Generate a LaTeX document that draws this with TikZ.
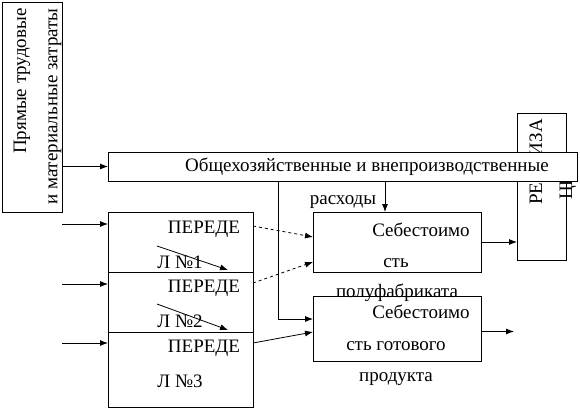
\documentclass[tikz,border=0pt]{standalone}
\usepackage{fontspec}
\setmainfont{Liberation Serif}
\usetikzlibrary{arrows.meta,calc}
\begin{document}
\begin{tikzpicture}[x=1pt,y=-1pt,
 box/.style={draw, line width=0.8pt, anchor=north west, inner sep=0pt, outer sep=0pt},
 lbl/.style={font=\fontsize{19}{19}\selectfont, inner sep=0pt},
 arr/.style={-{Latex[length=8pt,width=6pt]}, line width=0.8pt}]
\useasboundingbox (0,0) rectangle (580,409);
% boxes
\node[box, minimum width=60pt, minimum height=210pt] (left) at (2,2) {};
\node[box, minimum width=49pt, minimum height=147pt] (real) at (517,113) {};
\node[lbl, rotate=90, anchor=west] (realt1) at (536,205) {РЕАЛИЗА};
\node[lbl, rotate=90, anchor=west] (realt2) at (568,200) {ЦИ};
\node[box, fill=white, minimum width=469pt, minimum height=29pt] (bar) at (108,152) {};
\node[box, minimum width=168pt, minimum height=60pt] (pf) at (313,212) {};
\node[box, minimum width=168pt, minimum height=65pt] (gp) at (313,296) {};
\node[box, minimum width=145pt, minimum height=60pt] (A) at (108,212) {};
\node[box, minimum width=145pt, minimum height=60pt] (B) at (108,272) {};
\node[box, minimum width=145pt, minimum height=75pt] (C) at (108,332) {};
% texts
\node[lbl, rotate=90, anchor=west] (lt1) at (22,154) {Прямые трудовые};
\node[lbl, rotate=90, anchor=west] (lt2) at (55,205) {и материальные затраты};
\node[lbl] (bt) at (367,167) {Общехозяйственные и внепроизводственные};
\node[lbl] (rt) at (343,202) {расходы};
\node[lbl] (a1) at (204,229) {ПЕРЕДЕ};
\node[lbl] (a2) at (180,262) {Л №1};
\node[lbl] (b1) at (204,288) {ПЕРЕДЕ};
\node[lbl] (b2) at (180,321) {Л №2};
\node[lbl] (c1) at (204,348) {ПЕРЕДЕ};
\node[lbl] (c2) at (180,381) {Л №3};
\node[lbl] (p1) at (421,230) {Себестоимо};
\node[lbl] (p2) at (396,263) {сть};
\node[lbl] (p3) at (397,293) {полуфабриката};
\node[lbl] (g1) at (421,312) {Себестоимо};
\node[lbl] (g2) at (396,346) {сть готового};
\node[lbl] (g3) at (396,379) {продукта};
% connectors
\draw[arr] (left.north east |- bar.west) -- (bar.west);
\coordinate (pdown) at ($(pf.north west)+(72,0)$);
\draw[arr] (bar.south -| pdown) -- (pdown);
\coordinate (vtop) at (278,181);
\coordinate (gin) at ($(gp.north west)+(0,23)$);
\draw[arr] (vtop) |- (gin);
\draw[arr] (pf.east) -- (pf.east -| real.west);
\coordinate (gout) at ($(gp.east)+(33,3)$);
\draw[arr] ($(gp.east)+(0,3)$) -- (gout);
\coordinate (ia) at (62,224);
\coordinate (ib) at (62,284);
\coordinate (ic) at (62,343);
\draw[arr] (ia) -- (ia -| A.west);
\draw[arr] (ib) -- (ib -| B.west);
\draw[arr] (ic) -- (ic -| C.west);
\coordinate (d1s) at (157,246); \coordinate (d1e) at (228,270);
\coordinate (d2s) at (157,304); \coordinate (d2e) at (228,330);
\draw[arr] (d1s) -- (d1e);
\draw[arr] (d2s) -- (d2e);
\draw[arr, dashed] ($(A.north east)+(0,14)$) -- ($(pf.north west)+(0,25)$);
\draw[arr, dashed] ($(B.north east)+(0,11)$) -- ($(pf.north west)+(0,50)$);
\draw[arr] ($(C.north east)+(0,11)$) -- ($(gp.north west)+(0,36)$);
\end{tikzpicture}
\end{document}
